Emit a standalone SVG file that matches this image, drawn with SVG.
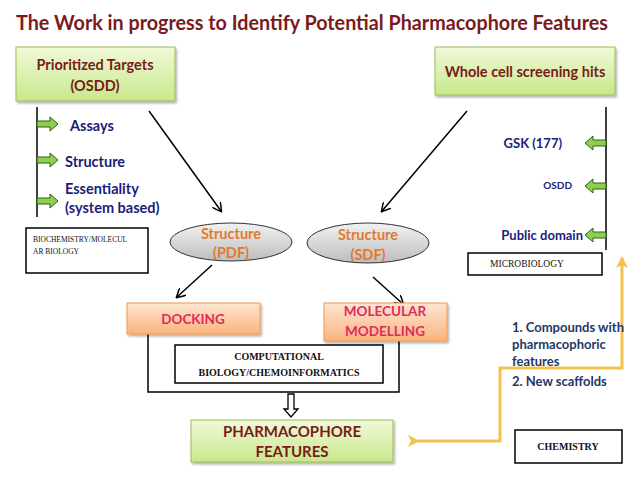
<svg xmlns="http://www.w3.org/2000/svg" xmlns:xlink="http://www.w3.org/1999/xlink" width="638" height="479" viewBox="0 0 638 479">
<style>
.t{font-family:Lato,"Open Sans","Liberation Sans",sans-serif;font-weight:bold}
.title{font-size:20px;fill:#7b1a1a}
.green{font-size:14.5px;fill:#7b1a1a}
.navy{font-size:14.5px;fill:#1c1c7a}
.navyr{font-size:13px;fill:#1c1c7a}
.orange{font-size:14.5px;fill:#e07a30}
.pink{font-size:13.5px;fill:#e02a5e}
.slate{font-size:13px;fill:#1f3864;font-weight:bold}
.serif{font-family:"Liberation Serif",serif;font-size:7.5px;fill:#111}
.serifb{font-family:"Liberation Serif",serif;font-size:10px;font-weight:bold;fill:#111}
.line{stroke:#000;stroke-width:1.5;fill:none}
.box{fill:#fff;stroke:#000;stroke-width:1.5}
</style>
<defs>
<linearGradient id="gg" x1="0" y1="0" x2="0" y2="1"><stop offset="0" stop-color="#f0f9d8"/><stop offset="1" stop-color="#c8e88c"/></linearGradient>
<linearGradient id="og" x1="0" y1="0" x2="0" y2="1"><stop offset="0" stop-color="#fde6d2"/><stop offset="1" stop-color="#fab47e"/></linearGradient>
<linearGradient id="eg" x1="0" y1="0" x2="0" y2="1"><stop offset="0" stop-color="#f2f2f2"/><stop offset="1" stop-color="#bdbdbd"/></linearGradient>
<filter id="sh" x="-10%" y="-10%" width="130%" height="140%"><feDropShadow dx="1.5" dy="2" stdDeviation="1.2" flood-color="#000" flood-opacity="0.3"/></filter>
<marker id="ah" markerWidth="10" markerHeight="10" refX="8" refY="5" orient="auto" markerUnits="userSpaceOnUse"><path d="M0,0 L9,5 L0,10" fill="none" stroke="#000" stroke-width="1.5"/></marker>
<marker id="yh" markerWidth="12" markerHeight="12" refX="2" refY="6" orient="auto" markerUnits="userSpaceOnUse"><path d="M0,6 L12,0 L9,6 L12,12 Z" fill="#f2c14e"/></marker>
<path id="gr" d="M0,-3 L13,-3 L13,-7 L21,0 L13,7 L13,3 L0,3 Z" fill="#8fcf50" stroke="#2f5e16" stroke-width="1"/>
</defs>

<text class="t title" x="16" y="30" textLength="592" lengthAdjust="spacingAndGlyphs">The Work in progress to Identify Potential Pharmacophore Features</text>

<g id="connectors">
<line class="line" x1="149" y1="111" x2="221" y2="211" marker-end="url(#ah)"/>
<line class="line" x1="467" y1="111" x2="382" y2="211" marker-end="url(#ah)"/>
<line class="line" x1="212" y1="265" x2="177" y2="297" marker-end="url(#ah)"/>
<line class="line" x1="373" y1="277" x2="403" y2="304" marker-end="url(#ah)"/>
<polyline class="line" points="148,334 148,392 399,392 399,341"/>
<path d="M288,394 L294,394 L294,409 L298,409 L291,417 L284,409 L288,409 Z" fill="#fff" stroke="#000" stroke-width="1.3"/>
<line class="line" x1="37" y1="107" x2="37" y2="217"/>
<use xlink:href="#gr" x="37" y="124"/>
<use xlink:href="#gr" x="37" y="160"/>
<use xlink:href="#gr" x="37" y="201"/>
<line class="line" x1="606" y1="107" x2="606" y2="250"/>
<use xlink:href="#gr" transform="translate(606,143) scale(-1,1)"/>
<use xlink:href="#gr" transform="translate(606,186) scale(-1,1)"/>
<use xlink:href="#gr" transform="translate(606,235) scale(-1,1)"/>
<polyline points="622,258 622,368 500,368 500,441 418,441" fill="none" stroke="#f2c14e" stroke-width="3" marker-start="url(#yh)" marker-end="url(#yh)"/>
</g>

<g id="prioritized">
<rect x="16" y="47" width="159" height="54" fill="url(#gg)" stroke="#9bbb59" stroke-width="1" filter="url(#sh)"/>
<text class="t green" x="95" y="70" text-anchor="middle">Prioritized Targets</text>
<text class="t green" x="95" y="91" text-anchor="middle">(OSDD)</text>
</g>
<g id="wholecell">
<rect x="435" y="47" width="180" height="48" fill="url(#gg)" stroke="#9bbb59" stroke-width="1" filter="url(#sh)"/>
<text class="t green" x="525" y="77" text-anchor="middle">Whole cell screening hits</text>
</g>

<g id="left-items">
<text class="t navy" x="70" y="131">Assays</text>
<text class="t navy" x="65" y="167">Structure</text>
<text class="t navy" x="65" y="194">Essentiality</text>
<text class="t navy" x="65" y="213">(system based)</text>
</g>
<g id="biochem">
<rect class="box" x="26" y="228" width="122" height="45"/>
<text class="serif" x="33" y="242">BIOCHEMISTRY/MOLECUL</text>
<text class="serif" x="33" y="254">AR BIOLOGY</text>
</g>

<g id="right-items">
<text class="t navyr" x="562" y="148" text-anchor="end">GSK (177)</text>
<text class="t navyr" x="572" y="189" text-anchor="end" style="font-size:10px">OSDD</text>
<text class="t navyr" x="583" y="240" text-anchor="end">Public domain</text>
</g>
<g id="microbiology">
<rect class="box" x="468" y="253" width="134" height="22"/>
<text class="serif" x="527" y="267" text-anchor="middle" style="font-size:9.5px">MICROBIOLOGY</text>
</g>

<g id="pdf">
<ellipse cx="231" cy="242" rx="61" ry="19" fill="url(#eg)" stroke="#333" stroke-width="1"/>
<text class="t orange" x="231" y="239" text-anchor="middle">Structure</text>
<text class="t orange" x="231" y="258" text-anchor="middle">(PDF)</text>
</g>
<g id="sdf">
<ellipse cx="368" cy="243" rx="61" ry="20" fill="url(#eg)" stroke="#333" stroke-width="1"/>
<text class="t orange" x="368" y="240" text-anchor="middle">Structure</text>
<text class="t orange" x="368" y="260" text-anchor="middle">(SDF)</text>
</g>

<g id="docking">
<rect x="127" y="303" width="133" height="31" fill="url(#og)" stroke="#f79646" stroke-width="1" filter="url(#sh)"/>
<text class="t pink" x="193" y="324" text-anchor="middle">DOCKING</text>
</g>
<g id="modelling">
<rect x="324" y="303" width="123" height="38" fill="url(#og)" stroke="#f79646" stroke-width="1" filter="url(#sh)"/>
<text class="t pink" x="385" y="316" text-anchor="middle">MOLECULAR</text>
<text class="t pink" x="385" y="336" text-anchor="middle">MODELLING</text>
</g>
<g id="computational">
<rect class="box" x="175" y="345" width="208" height="38"/>
<text class="serifb" x="279" y="360" text-anchor="middle">COMPUTATIONAL</text>
<text class="serifb" x="279" y="376" text-anchor="middle">BIOLOGY/CHEMOINFORMATICS</text>
</g>
<g id="pharmacophore">
<rect x="191" y="420" width="202" height="42" fill="url(#gg)" stroke="#9bbb59" stroke-width="1" filter="url(#sh)"/>
<text class="t" x="292" y="437" text-anchor="middle" style="font-size:15px;fill:#7b1a1a">PHARMACOPHORE</text>
<text class="t" x="292" y="457" text-anchor="middle" style="font-size:15px;fill:#7b1a1a">FEATURES</text>
</g>
<g id="outcomes">
<text class="t slate" x="512" y="332">1. Compounds with</text>
<text class="t slate" x="512" y="349">pharmacophoric</text>
<text class="t slate" x="512" y="366">features</text>
<text class="t slate" x="512" y="386">2. New scaffolds</text>
</g>
<g id="chemistry">
<rect class="box" x="515" y="430" width="107" height="33"/>
<text class="serifb" x="568" y="450" text-anchor="middle">CHEMISTRY</text>
</g>
</svg>
